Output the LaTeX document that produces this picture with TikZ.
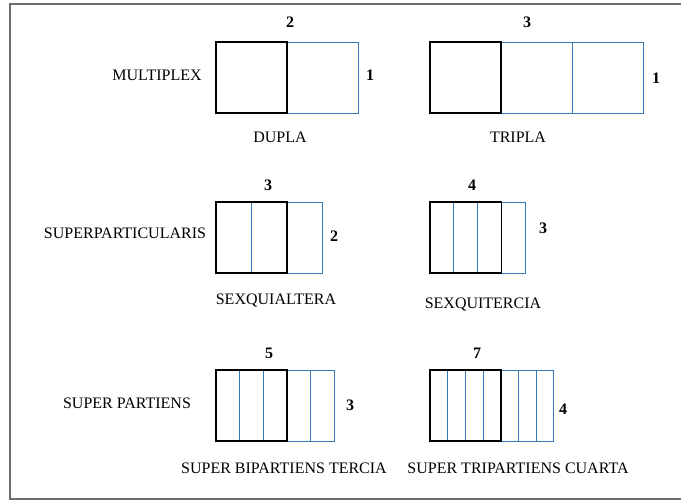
\documentclass[tikz,border=0pt]{standalone}
\usepackage{fontspec}
\setmainfont{Liberation Serif}
\definecolor{lineblue}{RGB}{52,122,182}
\definecolor{framegray}{RGB}{110,110,110}
\tikzset{
  partline/.style={lineblue, line width=0.9pt},
  wholebox/.style={black, line width=1.8pt},
  caption/.style={font=\fontsize{16}{19}\selectfont, inner sep=0pt},
  count/.style={font=\fontsize{16}{19}\selectfont\bfseries, inner sep=0pt}
}
% ratio figure: left x, top y, part width, black parts, all parts
\newcommand{\ratiobox}[5]{%
  \draw[partline] (#1,#2) rectangle ({#1+#5*#3},{#2+71});
  \foreach \k in {1,...,#5} {
    \draw[partline] ({#1+\k*#3},#2) -- ({#1+\k*#3},{#2+71});
  }
  \draw[wholebox] (#1,#2) rectangle ({#1+#4*#3},{#2+71});
}
\begin{document}
\begin{tikzpicture}[x=1pt,y=-1pt]
    \useasboundingbox (0,0) rectangle (681,503);

    % Frame (open on the right)
    \draw[framegray, line width=1.2pt] (681,4) -- (10,4) -- (10,499) -- (681,499);

    % Multiplex
    \ratiobox{216}{42}{71.3}{1}{2}
    \ratiobox{430}{42}{71}{1}{3}
    \node[caption] (multiplex) at (157,75) {MULTIPLEX};
    \node[count] (duplatop) at (290,22) {2};
    \node[count] (duplaside) at (370,75) {1};
    \node[caption] (dupla) at (280,137) {DUPLA};
    \node[count] (triplatop) at (527,22) {3};
    \node[count] (triplaside) at (656,78) {1};
    \node[caption] (tripla) at (518,137) {TRIPLA};

    % Superparticularis
    \ratiobox{216}{202}{35.5}{2}{3}
    \ratiobox{430}{202}{23.8}{3}{4}
    \node[caption] (superpart) at (125,233) {SUPERPARTICULARIS};
    \node[count] (sesquialtop) at (268,185) {3};
    \node[count] (sesquialside) at (334,236) {2};
    \node[caption] (sesquial) at (276,300) {SEXQUIALTERA};
    \node[count] (sesquitop) at (472,185) {4};
    \node[count] (sesquiside) at (543,228) {3};
    \node[caption] (sesqui) at (483,304) {SEXQUITERCIA};

    % Super partiens
    \ratiobox{216}{370}{23.6}{3}{5}
    \ratiobox{430}{370}{17.7}{4}{7}
    \node[caption] (superpartiens) at (127,403) {SUPER PARTIENS};
    \node[count] (bipartop) at (269,353) {5};
    \node[count] (biparside) at (350,405) {3};
    \node[caption] (bipar) at (284,468) {SUPER BIPARTIENS TERCIA};
    \node[count] (tripartop) at (477,353) {7};
    \node[count] (triparside) at (563,409) {4};
    \node[caption] (tripar) at (518,468) {SUPER TRIPARTIENS CUARTA};
\end{tikzpicture}
\end{document}
